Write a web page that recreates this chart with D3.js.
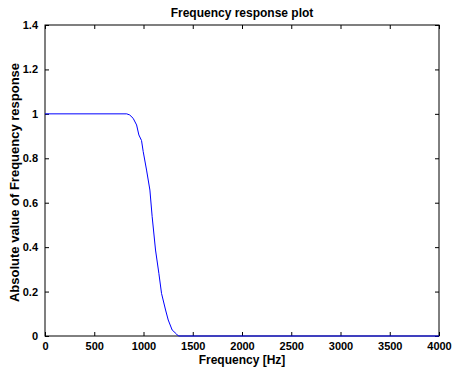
<!DOCTYPE html>
<html>
<head>
<meta charset="utf-8">
<script src="https://cdn.jsdelivr.net/npm/d3@7"></script>
<style>
	body { margin: 0; background: #fff; }
	text { font-family: 'Liberation Sans', Arial, sans-serif; font-weight: bold; fill: #000; }
</style>
</head>
<body>
<div id="chart"></div>
<script>
// frequency response samples
const freq = [0, 830, 860, 895, 930, 953, 980, 997, 1031, 1065, 1088, 1122, 1156, 1183, 1224, 1251, 1291, 1335, 1355, 4000]
const mag = [1, 1, 0.995, 0.98, 0.95, 0.905, 0.88, 0.83, 0.747, 0.657, 0.537, 0.387, 0.282, 0.192, 0.117, 0.072, 0.027, 0.009, 0, 0]

const xTicks = [0, 500, 1000, 1500, 2000, 2500, 3000, 3500, 4000]
const yTicks = [0, 0.2, 0.4, 0.6, 0.8, 1, 1.2, 1.4]

const width = 452
const height = 370
const margin = { top: 25, right: 13, bottom: 34, left: 45 }
const TICK = 4

const svg = d3.select('#chart').append('svg').attr('width', width).attr('height', height)

const x = d3.scaleLinear().domain([0, 4000]).range([margin.left, width - margin.right])
const y = d3.scaleLinear().domain([0, 1.4]).range([height - margin.bottom, margin.top])

const fmtY = d => String(+d.toFixed(1))

// bottom + top axes (ticks inside)
svg.append('g')
	.attr('transform', `translate(0,${y(0)})`)
	.call(d3.axisBottom(x).tickValues(xTicks).tickSize(-TICK).tickPadding(6).tickFormat(d3.format('')))
	.call(g => g.select('.domain').remove())
svg.append('g')
	.attr('transform', `translate(0,${y(1.4)})`)
	.call(d3.axisTop(x).tickValues(xTicks).tickSize(-TICK).tickFormat(''))
	.call(g => g.select('.domain').remove())

// left + right axes
svg.append('g')
	.attr('transform', `translate(${x(0)},0)`)
	.call(d3.axisLeft(y).tickValues(yTicks).tickSize(-TICK).tickPadding(7).tickFormat(fmtY))
	.call(g => g.select('.domain').remove())
svg.append('g')
	.attr('transform', `translate(${x(4000)},0)`)
	.call(d3.axisRight(y).tickValues(yTicks).tickSize(-TICK).tickFormat(''))
	.call(g => g.select('.domain').remove())

svg.selectAll('.tick line').attr('stroke', '#000')
svg.selectAll('.tick text').attr('font-size', 11).attr('font-family', null)

// axes box
svg.append('rect')
	.attr('x', x(0)).attr('y', y(1.4))
	.attr('width', x(4000) - x(0)).attr('height', y(0) - y(1.4))
	.attr('fill', 'none').attr('stroke', '#000').attr('stroke-width', 1)

// curve
const line = d3.line().x((d, i) => x(freq[i])).y(d => y(d))
svg.append('path').datum(mag)
	.attr('d', line)
	.attr('fill', 'none')
	.attr('stroke', '#0000ff')
	.attr('stroke-width', 1)

// labels
svg.append('text').attr('x', (x(0) + x(4000)) / 2).attr('y', 17)
	.attr('font-size', 12)
	.attr('text-anchor', 'middle').text('Frequency response plot')
svg.append('text').attr('x', (x(0) + x(4000)) / 2).attr('y', 364)
	.attr('font-size', 12)
	.attr('text-anchor', 'middle').text('Frequency [Hz]')
svg.append('text')
	.attr('transform', `translate(19,${(y(0) + y(1.4)) / 2 + 2}) rotate(-90)`)
	.attr('font-size', 13)
	.attr('text-anchor', 'middle').text('Absolute value of Frequency response')
</script>
</body>
</html>
